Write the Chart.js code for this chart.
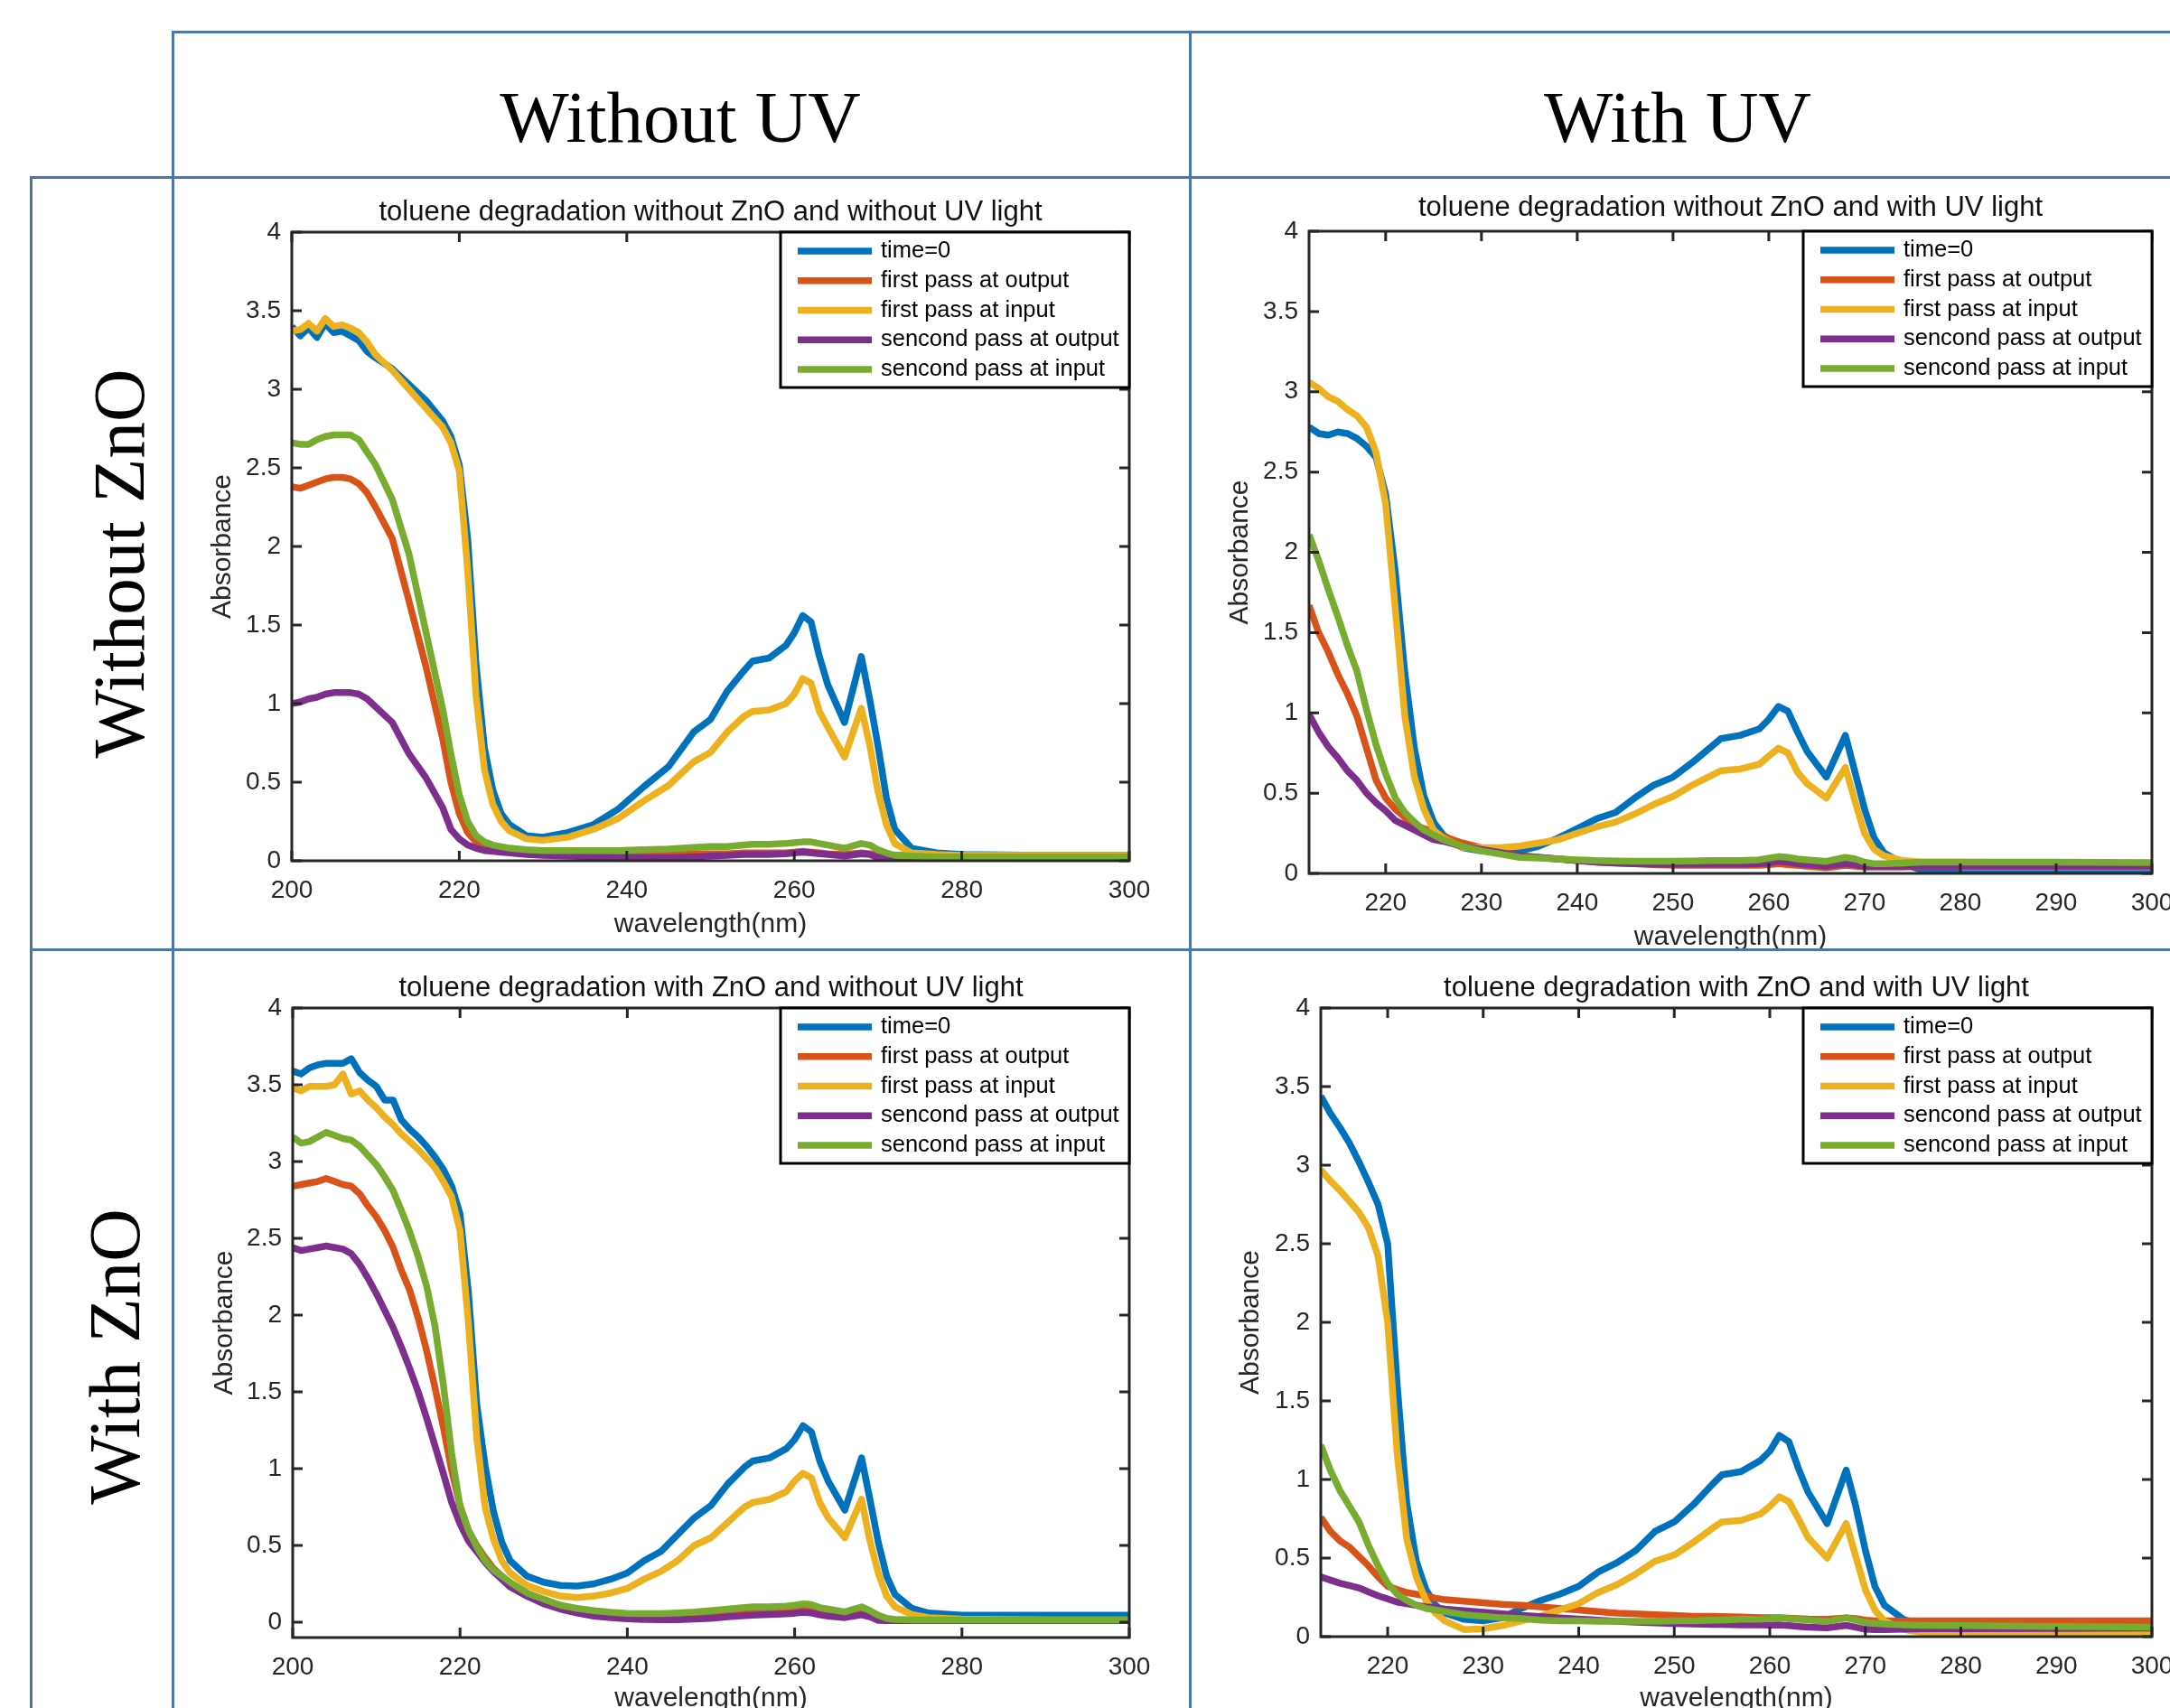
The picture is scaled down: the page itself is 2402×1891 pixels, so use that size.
<!DOCTYPE html>
<html>
<head>
<meta charset="utf-8">
<script src="https://cdn.jsdelivr.net/npm/chart.js@4.4.0/dist/chart.umd.min.js"></script>
<style>
  html, body { margin: 0; padding: 0; background: #fff; overflow: hidden; }
  body { width: 2402px; height: 1891px; position: relative; }
  .ln { position: absolute; background: #4a76a8; z-index: 2; }
  .hdr { position: absolute; font-family: "Liberation Serif", "Times New Roman", serif; font-size: 81px;
         line-height: 1; color: #000; white-space: nowrap; transform: translate(-50%, -50%); }
  .rot { transform: translate(-50%, -50%) rotate(-90deg); }
  canvas { position: absolute; display: block; }
</style>
</head>
<body>

<div class="ln" style="left:190px; top:34px; width:2230px; height:3px;"></div>
<div class="ln" style="left:33px; top:195px; width:2400px; height:3px;"></div>
<div class="ln" style="left:33px; top:1050px; width:2400px; height:3px;"></div>
<div class="ln" style="left:33px; top:195px; width:3px; height:1720px;"></div>
<div class="ln" style="left:190px; top:34px; width:3px; height:1880px;"></div>
<div class="ln" style="left:1316px; top:34px; width:3px; height:1880px;"></div>

<div class="hdr" style="left:753px; top:130px;">Without UV</div>
<div class="hdr" style="left:1857px; top:130px;">With UV</div>
<div class="hdr rot" style="left:132px; top:624px;">Without ZnO</div>
<div class="hdr rot" style="left:127px; top:1502px;">With ZnO</div>

<canvas id="c1" width="1123" height="852" style="left:193px; top:198px;"></canvas>
<canvas id="c2" width="1130" height="880" style="left:1319px; top:198px;"></canvas>
<canvas id="c3" width="1123" height="900" style="left:193px; top:1053px;"></canvas>
<canvas id="c4" width="1130" height="900" style="left:1319px; top:1053px;"></canvas>

<script>
// legend text and colours (MATLAB default order)
const legendLabels = ['time=0', 'first pass at output', 'first pass at input', 'sencond pass at output', 'sencond pass at input'];
const seriesColors = ['#0072BD', '#D95319', '#EDB120', '#7E2F8E', '#77AC30'];

// tick labels
const yTicks = [0, 0.5, 1, 1.5, 2, 2.5, 3, 3.5, 4];
const xTicksWide = [200, 220, 240, 260, 280, 300];
const xTicksNarrow = [220, 230, 240, 250, 260, 270, 280, 290, 300];

// --- without ZnO, without UV
const wl1 = [200,201,202,203,204,205,206,207,208,209,210,212,214,216,218,219,220,221,222,223,224,225,226,228,230,233,236,239,242,245,248,250,252,254,255,257,259,260,261,262,263,264,266,268,269,270,271,272,274,277,280,290,300];
const c1Time0 = [3.40,3.34,3.39,3.33,3.42,3.36,3.37,3.34,3.31,3.24,3.20,3.13,3.03,2.93,2.80,2.70,2.52,2.05,1.25,0.72,0.45,0.30,0.23,0.16,0.15,0.18,0.23,0.33,0.47,0.60,0.82,0.90,1.08,1.21,1.27,1.29,1.37,1.45,1.56,1.52,1.30,1.12,0.88,1.30,1.03,0.73,0.40,0.20,0.08,0.05,0.04,0.035,0.035];
const c1Out1 = [2.38,2.37,2.39,2.41,2.43,2.44,2.44,2.43,2.40,2.34,2.25,2.05,1.65,1.24,0.78,0.50,0.30,0.18,0.12,0.10,0.09,0.08,0.07,0.055,0.05,0.045,0.04,0.04,0.04,0.04,0.045,0.045,0.045,0.05,0.05,0.05,0.05,0.055,0.06,0.055,0.05,0.045,0.04,0.05,0.045,0.04,0.035,0.035,0.035,0.035,0.035,0.035,0.035];
const c1In1 = [3.37,3.38,3.42,3.37,3.45,3.40,3.41,3.39,3.36,3.30,3.22,3.12,3.00,2.88,2.76,2.66,2.48,1.85,1.05,0.58,0.36,0.25,0.19,0.14,0.13,0.15,0.20,0.27,0.38,0.48,0.63,0.69,0.82,0.92,0.95,0.96,1.00,1.06,1.16,1.13,0.95,0.85,0.66,0.97,0.74,0.44,0.23,0.11,0.05,0.04,0.035,0.035,0.035];
const c1Out2 = [1.00,1.01,1.03,1.04,1.06,1.07,1.07,1.07,1.06,1.03,0.98,0.88,0.68,0.53,0.34,0.20,0.14,0.10,0.08,0.065,0.06,0.055,0.05,0.04,0.035,0.03,0.025,0.02,0.02,0.02,0.025,0.03,0.035,0.04,0.04,0.04,0.045,0.05,0.055,0.05,0.045,0.04,0.03,0.045,0.04,0.02,0.01,0.005,0.005,0.005,0.005,0.005,0.005];
const c1In2 = [2.66,2.65,2.65,2.68,2.70,2.71,2.71,2.71,2.68,2.60,2.52,2.30,1.95,1.46,0.97,0.68,0.42,0.25,0.16,0.12,0.10,0.09,0.08,0.07,0.065,0.065,0.065,0.065,0.07,0.075,0.085,0.09,0.09,0.10,0.105,0.105,0.11,0.115,0.12,0.12,0.11,0.10,0.08,0.11,0.10,0.07,0.05,0.035,0.03,0.025,0.025,0.025,0.025];

// --- without ZnO, with UV
const wl2 = [212,213,214,215,216,217,218,219,220,221,222,223,224,225,226,228,230,232,234,236,238,240,242,244,246,248,250,252,254,255,257,259,260,261,262,263,264,266,268,269,270,271,272,274,276,280,290,300];
const c2Time0 = [2.78,2.74,2.73,2.75,2.74,2.71,2.66,2.59,2.36,1.88,1.25,0.78,0.48,0.32,0.24,0.16,0.14,0.13,0.14,0.17,0.22,0.28,0.34,0.38,0.47,0.55,0.60,0.69,0.79,0.84,0.86,0.90,0.96,1.04,1.01,0.88,0.76,0.60,0.86,0.63,0.40,0.22,0.13,0.06,0.02,0.0,0.0,0.0];
const c2Out1 = [1.67,1.50,1.38,1.24,1.12,0.98,0.78,0.58,0.47,0.40,0.35,0.30,0.28,0.26,0.23,0.19,0.16,0.13,0.11,0.10,0.09,0.08,0.07,0.065,0.06,0.055,0.05,0.05,0.05,0.05,0.05,0.05,0.055,0.06,0.055,0.05,0.045,0.035,0.05,0.045,0.04,0.04,0.04,0.04,0.045,0.045,0.045,0.045];
const c2In1 = [3.06,3.02,2.97,2.94,2.89,2.85,2.78,2.62,2.30,1.65,0.98,0.60,0.40,0.27,0.22,0.16,0.16,0.16,0.17,0.19,0.21,0.25,0.29,0.32,0.37,0.43,0.48,0.55,0.61,0.64,0.65,0.68,0.73,0.78,0.75,0.63,0.56,0.47,0.66,0.45,0.25,0.15,0.11,0.08,0.07,0.07,0.065,0.06];
const c2Out2 = [0.99,0.88,0.79,0.72,0.64,0.58,0.50,0.44,0.39,0.33,0.30,0.27,0.24,0.21,0.20,0.17,0.15,0.13,0.11,0.10,0.09,0.08,0.07,0.065,0.06,0.058,0.057,0.057,0.057,0.057,0.058,0.06,0.065,0.075,0.07,0.06,0.055,0.045,0.06,0.055,0.045,0.045,0.045,0.045,0.045,0.045,0.045,0.045];
const c2In2 = [2.11,1.95,1.77,1.60,1.42,1.26,1.02,0.80,0.62,0.47,0.38,0.32,0.27,0.24,0.21,0.17,0.14,0.12,0.10,0.095,0.09,0.085,0.08,0.078,0.076,0.076,0.076,0.078,0.08,0.08,0.08,0.085,0.095,0.105,0.10,0.09,0.085,0.075,0.10,0.09,0.07,0.06,0.06,0.065,0.07,0.07,0.07,0.068];

// --- with ZnO, without UV
const wl3 = [200,201,202,203,204,205,206,207,208,209,210,211,212,213,214,215,216,217,218,219,220,221,222,223,224,225,226,228,230,232,234,236,238,240,242,244,246,248,250,252,254,255,257,259,260,261,262,263,264,266,268,269,270,271,272,274,276,280,290,300];
const c3Time0 = [3.59,3.57,3.61,3.63,3.64,3.64,3.64,3.67,3.58,3.53,3.49,3.40,3.40,3.27,3.21,3.16,3.10,3.03,2.95,2.84,2.66,2.15,1.42,1.02,0.72,0.52,0.40,0.30,0.26,0.24,0.235,0.25,0.28,0.32,0.40,0.46,0.57,0.68,0.76,0.90,1.01,1.05,1.07,1.13,1.19,1.28,1.24,1.05,0.92,0.73,1.07,0.80,0.52,0.30,0.18,0.09,0.06,0.045,0.045,0.045];
const c3Out1 = [2.84,2.85,2.86,2.87,2.89,2.87,2.85,2.84,2.79,2.71,2.64,2.55,2.44,2.29,2.16,1.98,1.77,1.53,1.27,0.99,0.76,0.60,0.50,0.42,0.35,0.30,0.25,0.19,0.14,0.11,0.08,0.06,0.05,0.045,0.04,0.04,0.04,0.045,0.05,0.055,0.06,0.065,0.07,0.07,0.075,0.08,0.075,0.065,0.06,0.045,0.07,0.05,0.03,0.02,0.015,0.015,0.015,0.015,0.015,0.015];
const c3In1 = [3.48,3.46,3.49,3.49,3.49,3.50,3.57,3.44,3.46,3.40,3.35,3.29,3.24,3.18,3.13,3.08,3.02,2.96,2.87,2.77,2.55,1.95,1.20,0.75,0.54,0.40,0.32,0.24,0.20,0.17,0.16,0.17,0.19,0.22,0.28,0.33,0.40,0.50,0.55,0.65,0.75,0.78,0.80,0.85,0.92,0.97,0.94,0.78,0.68,0.55,0.80,0.53,0.32,0.17,0.10,0.05,0.03,0.02,0.015,0.015];
const c3Out2 = [2.44,2.42,2.43,2.44,2.45,2.44,2.43,2.40,2.33,2.24,2.14,2.03,1.92,1.79,1.65,1.50,1.33,1.15,0.97,0.78,0.64,0.53,0.46,0.39,0.33,0.28,0.23,0.17,0.12,0.085,0.06,0.04,0.03,0.022,0.017,0.016,0.016,0.02,0.025,0.035,0.043,0.046,0.05,0.055,0.058,0.065,0.06,0.048,0.04,0.03,0.048,0.035,0.012,0.01,0.01,0.01,0.01,0.01,0.01,0.01];
const c3In2 = [3.16,3.12,3.13,3.16,3.19,3.17,3.15,3.14,3.10,3.04,2.98,2.90,2.81,2.68,2.54,2.38,2.19,1.93,1.55,1.10,0.75,0.60,0.49,0.40,0.34,0.30,0.26,0.19,0.15,0.11,0.09,0.075,0.065,0.058,0.056,0.056,0.06,0.066,0.075,0.085,0.095,0.10,0.10,0.105,0.11,0.12,0.115,0.095,0.085,0.067,0.10,0.075,0.045,0.025,0.018,0.015,0.015,0.015,0.015,0.015];

// --- with ZnO, with UV
const wl4 = [213,214,215,216,217,218,219,220,221,222,223,224,225,226,228,230,232,234,236,238,240,242,244,246,248,250,252,254,255,257,259,260,261,262,263,264,266,268,269,270,271,272,274,276,280,290,300];
const c4Time0 = [3.44,3.33,3.24,3.14,3.02,2.89,2.75,2.50,1.60,0.85,0.48,0.30,0.20,0.15,0.11,0.10,0.12,0.18,0.23,0.27,0.32,0.41,0.47,0.55,0.67,0.73,0.84,0.97,1.03,1.05,1.12,1.18,1.28,1.24,1.07,0.92,0.72,1.06,0.83,0.55,0.32,0.20,0.11,0.07,0.05,0.045,0.04];
const c4Out1 = [0.76,0.67,0.61,0.57,0.51,0.45,0.38,0.32,0.30,0.28,0.27,0.26,0.245,0.235,0.225,0.215,0.205,0.20,0.19,0.18,0.17,0.16,0.15,0.145,0.14,0.135,0.13,0.13,0.128,0.125,0.12,0.12,0.12,0.118,0.115,0.112,0.11,0.12,0.115,0.105,0.10,0.10,0.10,0.10,0.10,0.10,0.10];
const c4In1 = [2.97,2.90,2.84,2.77,2.70,2.60,2.42,2.00,1.16,0.62,0.38,0.23,0.15,0.10,0.045,0.05,0.07,0.10,0.13,0.17,0.21,0.28,0.33,0.40,0.48,0.52,0.60,0.69,0.73,0.74,0.78,0.83,0.89,0.86,0.75,0.63,0.50,0.72,0.51,0.30,0.17,0.10,0.045,0.025,0.015,0.015,0.015];
const c4Out2 = [0.38,0.36,0.34,0.325,0.31,0.285,0.26,0.24,0.22,0.21,0.20,0.19,0.185,0.175,0.165,0.155,0.145,0.135,0.128,0.12,0.112,0.105,0.098,0.092,0.087,0.084,0.081,0.078,0.077,0.075,0.074,0.073,0.075,0.07,0.065,0.06,0.056,0.072,0.06,0.047,0.045,0.045,0.047,0.05,0.05,0.052,0.055];
const c4In2 = [1.22,1.06,0.93,0.83,0.73,0.58,0.45,0.34,0.27,0.23,0.20,0.18,0.17,0.16,0.14,0.13,0.12,0.115,0.105,0.10,0.10,0.098,0.097,0.097,0.098,0.10,0.10,0.105,0.105,0.11,0.11,0.115,0.12,0.115,0.11,0.105,0.097,0.12,0.105,0.09,0.085,0.08,0.075,0.072,0.07,0.065,0.06];

const FONT = '"Liberation Sans", Arial, sans-serif';
const AXIS_COLOR = '#262626';
const LINE_W = 7.5;
Chart.defaults.font.family = FONT;

// box, inward ticks (MATLAB style) and the legend drawn inside the axes
const matlabBox = {
  id: 'matlabBox',
  afterDatasetsDraw(chart) {
    const { ctx, chartArea: a, scales } = chart;
    const tl = 11;
    ctx.save();
    ctx.strokeStyle = AXIS_COLOR;
    ctx.lineWidth = 3;
    ctx.beginPath();
    scales.x.ticks.forEach(t => {
      const p = scales.x.getPixelForValue(t.value);
      ctx.moveTo(p, a.bottom); ctx.lineTo(p, a.bottom - tl);
      ctx.moveTo(p, a.top); ctx.lineTo(p, a.top + tl);
    });
    scales.y.ticks.forEach(t => {
      const p = scales.y.getPixelForValue(t.value);
      ctx.moveTo(a.left, p); ctx.lineTo(a.left + tl, p);
      ctx.moveTo(a.right, p); ctx.lineTo(a.right - tl, p);
    });
    ctx.stroke();
    ctx.strokeRect(a.left, a.top, a.right - a.left, a.bottom - a.top);

    // legend
    const w = 386, h = 172;
    const lx = a.right - w, ly = a.top;
    ctx.fillStyle = '#fff';
    ctx.fillRect(lx, ly, w, h);
    ctx.strokeStyle = '#000';
    ctx.strokeRect(lx, ly, w, h);
    ctx.font = '25.5px ' + FONT;
    ctx.textBaseline = 'middle';
    chart.data.datasets.forEach((ds, i) => {
      const yy = ly + 21 + i * 32.75;
      ctx.strokeStyle = ds.borderColor;
      ctx.lineWidth = LINE_W;
      ctx.beginPath(); ctx.moveTo(lx + 19, yy); ctx.lineTo(lx + 101, yy); ctx.stroke();
      ctx.fillStyle = '#000';
      ctx.fillText(ds.label, lx + 111, yy);
    });
    ctx.restore();
  }
};

function makeChart(id, p) {
  const datasets = p.series.map((vals, i) => ({
    label: legendLabels[i],
    data: p.wl.map((w, j) => ({ x: w, y: vals[j] })),
    borderColor: seriesColors[i],
    borderWidth: LINE_W,
    borderJoinStyle: 'round',
    pointRadius: 0,
    tension: 0,
    fill: false,
    order: p.series.length - i   // later series drawn on top, like MATLAB
  }));

  return new Chart(document.getElementById(id), {
    type: 'line',
    data: { datasets },
    options: {
      responsive: false,
      animation: false,
      devicePixelRatio: 1,
      layout: { padding: { left: 0, right: p.padR, top: 0, bottom: 0 } },
      plugins: {
        legend: { display: false },
        tooltip: { enabled: false },
        title: {
          display: true,
          text: p.title,
          fullSize: false,
          color: '#111',
          font: { size: 31, weight: 'normal' },
          padding: { top: p.titleTop, bottom: p.titleBottom }
        }
      },
      scales: {
        x: {
          type: 'linear',
          min: p.wl[0],
          max: 300,
          afterBuildTicks: s => { s.ticks = p.xTicks.map(v => ({ value: v })); },
          afterFit: s => { s.height = p.xh; },
          grid: { display: false },
          border: { display: false },
          ticks: { autoSkip: false, maxRotation: 0, padding: 8, color: AXIS_COLOR,
                   font: { size: 28 }, callback: v => String(v) },
          title: { display: true, text: 'wavelength(nm)', color: AXIS_COLOR,
                   font: { size: 30 }, padding: { top: 0, bottom: p.xTitlePad } }
        },
        y: {
          min: p.yMin,
          max: 4,
          afterBuildTicks: s => { s.ticks = yTicks.map(v => ({ value: v })); },
          afterFit: s => { s.width = p.yw; },
          grid: { display: false },
          border: { display: false },
          ticks: { autoSkip: false, padding: 4, color: AXIS_COLOR,
                   font: { size: 28 }, callback: v => String(v) },
          title: { display: true, text: 'Absorbance', color: AXIS_COLOR,
                   font: { size: 30 }, padding: { top: p.yTitlePad, bottom: 0 } }
        }
      }
    },
    plugins: [matlabBox]
  });
}

makeChart('c1', {
  wl: wl1, series: [c1Time0, c1Out1, c1In1, c1Out2, c1In2], xTicks: xTicksWide, yMin: 0,
  title: 'toluene degradation without ZnO and without UV light',
  padR: 66, yw: 130, xh: 97, titleTop: 18.4, titleBottom: 3.4, yTitlePad: 36, xTitlePad: 8
});
makeChart('c2', {
  wl: wl2, series: [c2Time0, c2Out1, c2In1, c2Out2, c2In2], xTicks: xTicksNarrow, yMin: 0,
  title: 'toluene degradation without ZnO and with UV light',
  padR: 67, yw: 130, xh: 111, titleTop: 13.4, titleBottom: 7.4, yTitlePad: 36, xTitlePad: 22
});
makeChart('c3', {
  wl: wl3, series: [c3Time0, c3Out1, c3In1, c3Out2, c3In2], xTicks: xTicksWide, yMin: -0.1,
  title: 'toluene degradation with ZnO and without UV light',
  padR: 66, yw: 131, xh: 140, titleTop: 22.4, titleBottom: 3.4, yTitlePad: 38, xTitlePad: 54
});
makeChart('c4', {
  wl: wl4, series: [c4Time0, c4Out1, c4In1, c4Out2, c4In2], xTicks: xTicksNarrow, yMin: 0,
  title: 'toluene degradation with ZnO and with UV light',
  padR: 67, yw: 143, xh: 141, titleTop: 22.4, titleBottom: 3.4, yTitlePad: 48, xTitlePad: 54
});
</script>
</body>
</html>
